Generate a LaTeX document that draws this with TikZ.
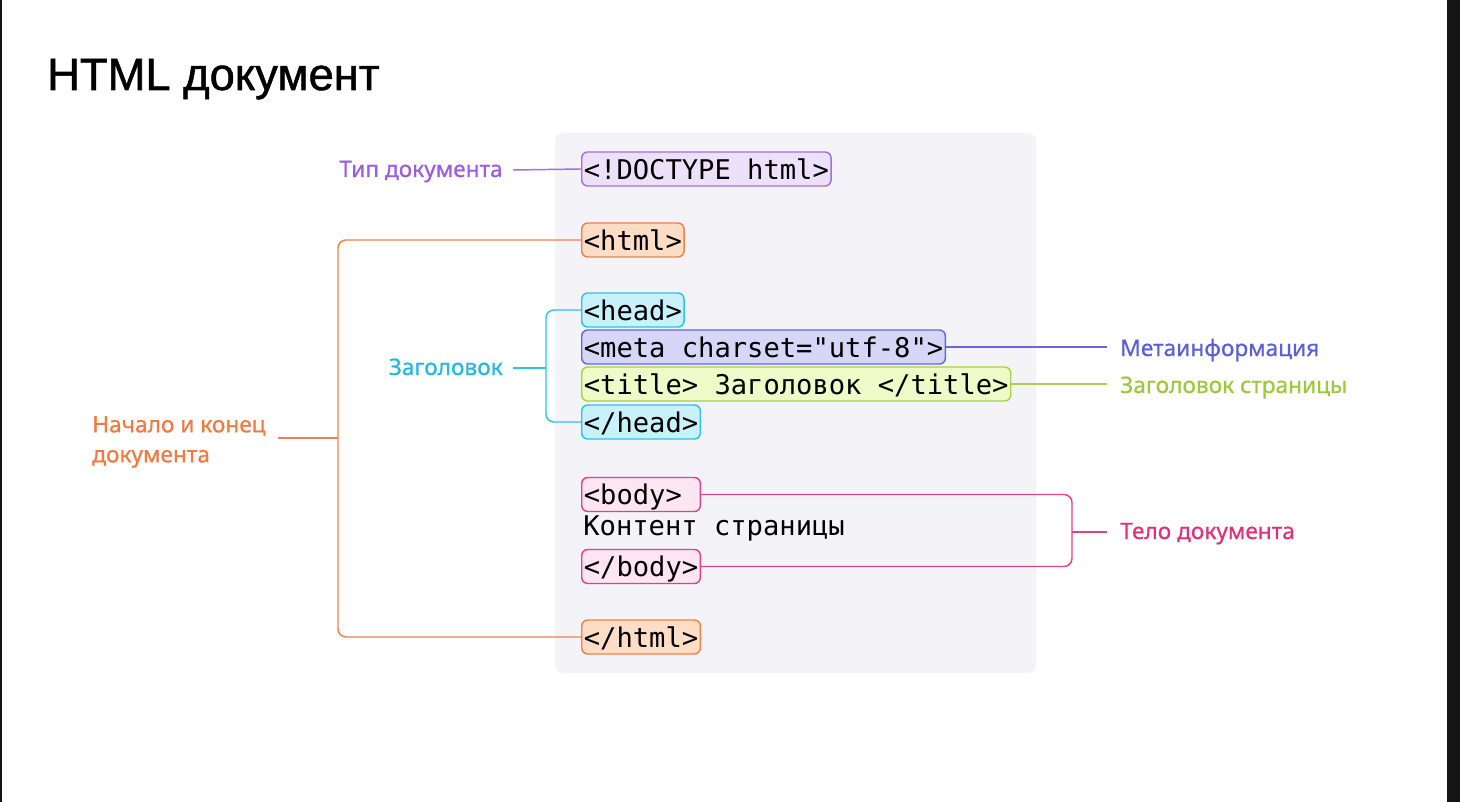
\documentclass[tikz,border=0pt]{standalone}
\usepackage{fontspec}
\setmainfont{Liberation Sans}
\newfontfamily\labfont[FakeBold=0.6]{Noto Sans}
\newfontfamily\codefont{DejaVu Sans Mono}
\newfontfamily\titlefont[FakeBold=1.2]{Liberation Sans}
\usetikzlibrary{positioning}
\definecolor{panel}{HTML}{F4F3F8}
\definecolor{purB}{HTML}{A46EE0}\definecolor{purF}{HTML}{EDE1FA}\definecolor{purT}{HTML}{9A5CE0}
\definecolor{orB}{HTML}{F0814A}\definecolor{orF}{HTML}{FDDDC6}\definecolor{orT}{HTML}{F07A40}
\definecolor{cyB}{HTML}{2EC2E4}\definecolor{cyF}{HTML}{C9F1FB}\definecolor{cyT}{HTML}{22B8E0}
\definecolor{blB}{HTML}{6668D8}\definecolor{blF}{HTML}{D6D6F7}\definecolor{blT}{HTML}{5A5FD8}
\definecolor{grB}{HTML}{A8D048}\definecolor{grF}{HTML}{F0FAC8}\definecolor{grT}{HTML}{9CC840}
\definecolor{pkB}{HTML}{E0408C}\definecolor{pkF}{HTML}{FDE6F2}\definecolor{pkT}{HTML}{E0307A}
\definecolor{edge}{HTML}{141416}
\tikzset{
  tagbox/.style={draw=#1B, fill=#1F, line width=1.1pt, rounded corners=4.5pt,
    anchor=west, inner xsep=1.6pt, inner ysep=0pt, minimum height=25.5pt,
    font=\codefont\fontsize{20.35}{20}\selectfont, text depth=0pt},
  codetext/.style={anchor=west, inner xsep=1.6pt, inner ysep=0pt,
    font=\codefont\fontsize{20.35}{20}\selectfont},
  lab/.style={text=#1T, font=\labfont\fontsize{17}{22.5}\selectfont, inner sep=0pt},
  conn/.style={draw=#1B, line width=1.1pt, rounded corners=6pt},
}
\begin{document}
\begin{tikzpicture}[x=0.75pt,y=-0.75pt]
\useasboundingbox (0,0) rectangle (1460,802);
\fill[white] (0,0) rectangle (1460,802);
\fill[edge] (1447,0) rectangle (1460,802);
\fill[edge] (0,0) rectangle (1.5,802);
% title
\node[anchor=base west, inner sep=0pt, font=\titlefont\fontsize{34}{34}\selectfont] (title) at (47,90) {HTML документ};
% panel
\fill[panel, rounded corners=6pt] (555,133) rectangle (1036,673);
% code nodes
\node[tagbox=pur] (doctype) at (581,169) {\strut<!DOCTYPE html>};
\node[tagbox=or] (html) at (581,240) {\strut<html>};
\node[tagbox=cy] (head) at (581,310) {\strut<head>};
\node[tagbox=bl] (meta) at (581,347) {\strut<meta charset="utf-8">};
\node[tagbox=gr] (ttl) at (581,384) {\strut<title> Заголовок </title>};
\node[tagbox=cy] (ehead) at (581,422) {\strut</head>};
\node[tagbox=pk] (body) at (581,494.5) {\strut<body>\phantom{x}};
\node[codetext] (content) at (581,530) {\strut Контент страницы};
\node[tagbox=pk] (ebody) at (581,566.5) {\strut</body>};
\node[tagbox=or] (ehtml) at (581,637) {\strut</html>};
% labels
\node[lab=pur, anchor=base east] (ltype) at (503,177) {Тип документа};
\node[lab=or, anchor=west, align=left] (lhtml) at (92,442) {Начало и конец\\документа};
\node[lab=cy, anchor=base east] (lhead) at (503,375) {Заголовок};
\node[lab=bl, anchor=base west] (lmeta) at (1120,356) {Метаинформация};
\node[lab=gr, anchor=base west] (lttl) at (1120,393) {Заголовок страницы};
\node[lab=pk, anchor=base west] (lbody) at (1120,539) {Тело документа};
% coordinates
\coordinate (obr) at (338,438);
\coordinate (cbr) at (546,368);
\coordinate (pbr) at (1072,532);
% connectors
\draw[conn=pur] (513,170) -- (doctype.west);
\draw[conn=or] (html.west) -| (obr) |- (ehtml.west);
\draw[conn=or] (278,438) -- (obr);
\draw[conn=cy] (head.west) -| (cbr) |- (ehead.west);
\draw[conn=cy] (513,368) -- (cbr);
\draw[conn=bl] (meta.east) -- (1107,347);
\draw[conn=gr] (ttl.east) -- (1107,384);
\draw[conn=pk] (body.east) -| (pbr) |- (ebody.east);
\draw[conn=pk] (pbr) -- (1107,532);
\end{tikzpicture}
\end{document}
